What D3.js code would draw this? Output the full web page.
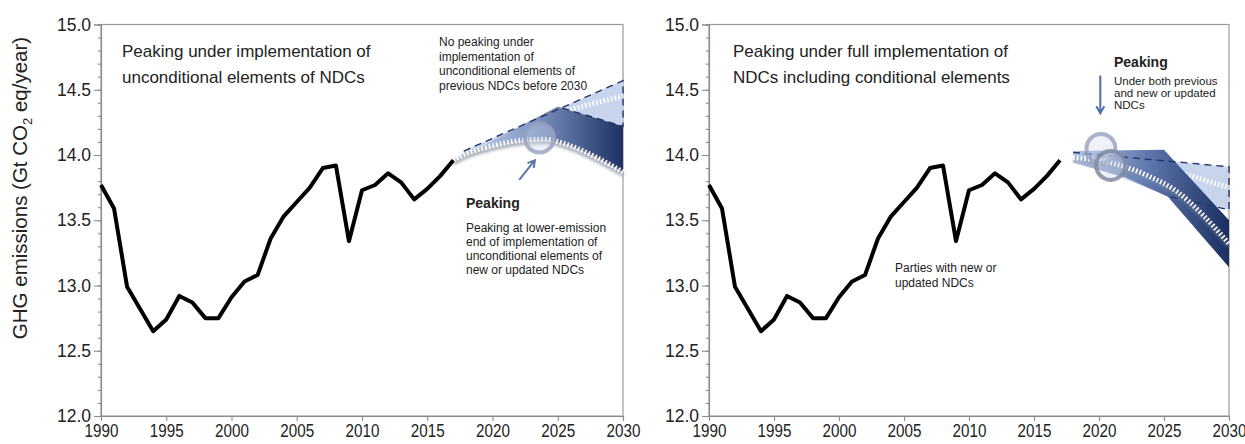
<!DOCTYPE html>
<html>
<head>
<meta charset="utf-8">
<script src="https://cdn.jsdelivr.net/npm/d3@7"></script>
<style>
  body { margin: 0; background: #fff; }
  svg text { font-family: "Liberation Sans", Arial, sans-serif; fill: #222; }
</style>
</head>
<body>
<svg id="chart" width="1245" height="444"></svg>
<script>
"use strict";

// historical emissions (Gt CO2 eq / year)
const histYears = [1990, 1991, 1992, 1993, 1994, 1995, 1996, 1997, 1998, 1999,
                   2000, 2001, 2002, 2003, 2004, 2005, 2006, 2007, 2008, 2009,
                   2010, 2011, 2012, 2013, 2014, 2015, 2016, 2017];
const histValues = [13.77, 13.59, 12.99, 12.82, 12.65, 12.74, 12.92, 12.87, 12.75, 12.75,
                    12.91, 13.03, 13.08, 13.36, 13.53, 13.64, 13.75, 13.90, 13.92, 13.34,
                    13.73, 13.77, 13.86, 13.79, 13.66, 13.74, 13.84, 13.96];

// left panel: unconditional NDCs
const leftMidYears = [2017, 2018, 2020, 2022, 2024, 2026, 2028, 2030];
const leftMidValues = [13.96, 14.01, 14.07, 14.11, 14.12, 14.07, 13.98, 13.87];
const leftTopYears = [2017.5, 2025, 2030];
const leftTopValues = [13.98, 14.37, 14.22];
const leftPrevUpperYears = [2017.8, 2030];
const leftPrevUpperValues = [14.03, 14.57];
const leftPrevMidYears = [2018, 2022, 2025, 2030];
const leftPrevMidValues = [13.99, 14.18, 14.31, 14.45];
const leftPeak = [2023.6, 14.13];
const leftArrow = [[2022.05, 13.81], [2023.25, 13.96]];

// right panel: NDCs including conditional elements
const rightMidYears = [2018, 2020, 2022, 2024, 2026, 2028, 2030];
const rightMidValues = [13.98, 13.96, 13.91, 13.83, 13.72, 13.54, 13.32];
const rightTopYears = [2018, 2025, 2030];
const rightTopValues = [14.03, 14.04, 13.50];
const rightLowYears = [2018, 2022, 2025.3, 2030];
const rightLowValues = [13.94, 13.83, 13.68, 13.14];
const rightPrevUpperYears = [2018, 2030];
const rightPrevUpperValues = [14.02, 13.91];
const rightPrevLowYears = [2018, 2025.5, 2030];
const rightPrevLowValues = [13.97, 13.68, 13.58];
const rightPrevMidYears = [2018, 2025.5, 2030];
const rightPrevMidValues = [14.0, 13.88, 13.75];
const rightPeaks = [[2020.15, 14.05], [2020.9, 13.92]];
const rightArrow = [[2020.1, 14.61], [2020.1, 14.32]];

// axes
const xTicks = [1990, 1995, 2000, 2005, 2010, 2015, 2020, 2025, 2030];
const yTicks = [12.0, 12.5, 13.0, 13.5, 14.0, 14.5, 15.0];

const svg = d3.select("#chart");
const defs = svg.append("defs");
const plotTop = 24.5, plotBottom = 416;

const blur = defs.append("filter").attr("id", "soft").attr("x", "-10%").attr("y", "-50%")
    .attr("width", "120%").attr("height", "200%");
blur.append("feGaussianBlur").attr("stdDeviation", 1.6);

const zip = (xs, vs) => xs.map((v, i) => [v, vs[i]]);

function arrow(g, x, y, p0, p1, color) {
    const a = [x(p0[0]), y(p0[1])], b = [x(p1[0]), y(p1[1])];
    const ang = Math.atan2(b[1] - a[1], b[0] - a[0]);
    const len = 8, spread = Math.PI / 6;
    const l = [b[0] - len * Math.cos(ang - spread), b[1] - len * Math.sin(ang - spread)];
    const r = [b[0] - len * Math.cos(ang + spread), b[1] - len * Math.sin(ang + spread)];
    g.append("path")
        .attr("d", `M${a}L${b}M${l}L${b}L${r}`)
        .attr("fill", "none").attr("stroke", color).attr("stroke-width", 2);
}

function drawPanel(p) {
    const g = svg.append("g").attr("transform", `translate(${p.left},${plotTop})`);
    const w = p.right - p.left, h = plotBottom - plotTop;
    const x = d3.scaleLinear().domain([1990, 2030]).range([0, w]);
    const y = d3.scaleLinear().domain([12, 15]).range([h, 0]);
    const line = d3.line().x(d => x(d[0])).y(d => y(d[1]));
    const smooth = d3.line().x(d => x(d[0])).y(d => y(d[1])).curve(d3.curveMonotoneX);

    // frame
    g.append("rect").attr("width", w).attr("height", h)
        .attr("fill", "none").attr("stroke", "#9a9a9a").attr("stroke-width", 1.2);

    // axes
    const ax = g.append("g").attr("transform", `translate(0,${h})`)
        .call(d3.axisBottom(x).tickValues(xTicks).tickSize(5).tickFormat(d3.format("d")));
    ax.selectAll("text").attr("y", 8).attr("font-size", 19).attr("transform", "scale(0.8,1)");

    const ay = g.append("g")
        .call(d3.axisLeft(y).tickValues(yTicks).tickSize(7).tickPadding(3).tickFormat(d3.format(".1f")));
    ay.selectAll("text").attr("font-size", 17.5);
    g.append("g")
        .call(d3.axisLeft(y).tickValues(d3.range(12, 15.001, 0.1)).tickSize(3).tickFormat(""));
    g.selectAll(".domain, .tick line").attr("stroke", "#8c8c8c").attr("stroke-width", 1.1);

    // gradient of the NDC band
    const grad = defs.append("linearGradient").attr("id", p.id + "-grad")
        .attr("gradientUnits", "userSpaceOnUse")
        .attr("x1", x(p.gradFrom)).attr("x2", x(2030)).attr("y1", 0).attr("y2", 0);
    p.gradStops.forEach(s => grad.append("stop").attr("offset", s[0]).attr("stop-color", s[1]));

    // previous NDC band (light)
    g.append("path").attr("d", line(p.prevBand) + "Z")
        .attr("fill", "#c7d4eb");
    g.append("path").attr("d", smooth(p.prevMid))
        .attr("fill", "none").attr("stroke", "#fff").attr("stroke-width", 5)
        .attr("stroke-dasharray", "1.6,2.2");

    // new NDC band (dark gradient)
    g.append("path").attr("d", line(p.band) + "Z")
        .attr("fill", `url(#${p.id}-grad)`);

    // dashed outline of previous NDC band
    p.dashed.forEach(seg => {
        g.append("path").attr("d", line(seg))
            .attr("fill", "none").attr("stroke", "#22366a").attr("stroke-width", 1.4)
            .attr("stroke-dasharray", "7,5");
    });

    // central white dotted path with soft shadow
    g.append("path").attr("d", smooth(p.mid))
        .attr("transform", "translate(0,2.5)")
        .attr("fill", "none").attr("stroke", "#8f96a6").attr("stroke-width", 5)
        .attr("opacity", p.shadow).attr("filter", "url(#soft)");
    g.append("path").attr("d", smooth(p.mid))
        .attr("fill", "none").attr("stroke", "#fff").attr("stroke-width", 5)
        .attr("stroke-dasharray", "1.6,2.2");

    // peaking circles
    p.peaks.forEach((c, i) => {
        g.append("circle").attr("cx", x(c[0])).attr("cy", y(c[1])).attr("r", 14.5)
            .attr("fill", "rgba(205,214,234,0.35)")
            .attr("stroke", i === 1 ? "rgba(130,138,160,0.85)" : "rgba(150,160,192,0.8)")
            .attr("stroke-width", 4);
    });

    // historical line
    g.append("path").attr("d", line(zip(histYears, histValues)))
        .attr("fill", "none").attr("stroke", "#000").attr("stroke-width", 4)
        .attr("stroke-linejoin", "round");

    arrow(g, x, y, p.arrow[0], p.arrow[1], p.arrowColor);

    // texts
    p.texts.forEach(t => {
        const txt = g.append("text").attr("x", t.x).attr("y", t.y)
            .attr("font-size", t.size).attr("font-weight", t.bold ? "bold" : null);
        t.lines.forEach((s, i) => {
            txt.append("tspan").attr("x", t.x).attr("dy", i === 0 ? 0 : t.lh).text(s);
        });
    });
    return g;
}

const leftTop = zip(leftTopYears, leftTopValues);
drawPanel({
    id: "left", left: 101, right: 623,
    gradFrom: 2017.5,
    gradStops: [[0, "#cbd7ec"], [0.45, "#8096c4"], [1, "#1c3161"]],
    prevBand: zip(leftPrevUpperYears, leftPrevUpperValues).concat(leftTop.slice().reverse()),
    prevMid: zip(leftPrevMidYears, leftPrevMidValues),
    band: leftTop.concat(zip(leftMidYears, leftMidValues).slice(1).reverse()),
    dashed: [zip(leftPrevUpperYears, leftPrevUpperValues)
                .concat(leftTop.slice(1).reverse())],
    mid: zip(leftMidYears, leftMidValues),
    shadow: 0.75,
    peaks: [leftPeak],
    arrow: leftArrow, arrowColor: "#5878a8",
    texts: [
        {x: 21, y: 32.5, size: 17, lh: 26,
         lines: ["Peaking under implementation of", "unconditional elements of NDCs"]},
        {x: 338, y: 21.5, size: 12, lh: 14.5,
         lines: ["No peaking under", "implementation of", "unconditional elements of",
                 "previous NDCs before 2030"]},
        {x: 365, y: 183.5, size: 14, bold: true, lh: 0, lines: ["Peaking"]},
        {x: 365, y: 207.5, size: 12, lh: 14,
         lines: ["Peaking at lower-emission", "end of implementation of",
                 "unconditional elements of", "new or updated NDCs"]}
    ]
});

const rightTop = zip(rightTopYears, rightTopValues);
drawPanel({
    id: "right", left: 709, right: 1229,
    gradFrom: 2018,
    gradStops: [[0, "#b2c2e2"], [0.5, "#5c75aa"], [1, "#1a2e5f"]],
    prevBand: zip(rightPrevUpperYears, rightPrevUpperValues)
                .concat(zip(rightPrevLowYears, rightPrevLowValues).reverse()),
    prevMid: zip(rightPrevMidYears, rightPrevMidValues),
    band: rightTop.concat(zip(rightLowYears, rightLowValues).reverse()),
    dashed: [zip(rightPrevUpperYears, rightPrevUpperValues)
                .concat(zip(rightPrevLowYears, rightPrevLowValues).slice(1).reverse())],
    mid: zip(rightMidYears, rightMidValues),
    shadow: 0.35,
    peaks: rightPeaks,
    arrow: rightArrow, arrowColor: "#4d6fa5",
    texts: [
        {x: 24, y: 32.5, size: 17, lh: 26,
         lines: ["Peaking under full implementation of", "NDCs including conditional elements"]},
        {x: 405, y: 42, size: 14, bold: true, lh: 0, lines: ["Peaking"]},
        {x: 405, y: 60.5, size: 11.5, lh: 11.8,
         lines: ["Under both previous", "and new or updated", "NDCs"]},
        {x: 186, y: 247.5, size: 12, lh: 14.5,
         lines: ["Parties with new or", "updated NDCs"]}
    ]
});

// y axis title
const yt = svg.append("text")
    .attr("transform", "translate(27,188) rotate(-90)")
    .attr("text-anchor", "middle").attr("font-size", 20.5);
yt.append("tspan").text("GHG emissions (Gt CO");
yt.append("tspan").attr("font-size", 13).attr("dy", 5).text("2");
yt.append("tspan").attr("dy", -5).text(" eq/year)");
</script>
</body>
</html>
